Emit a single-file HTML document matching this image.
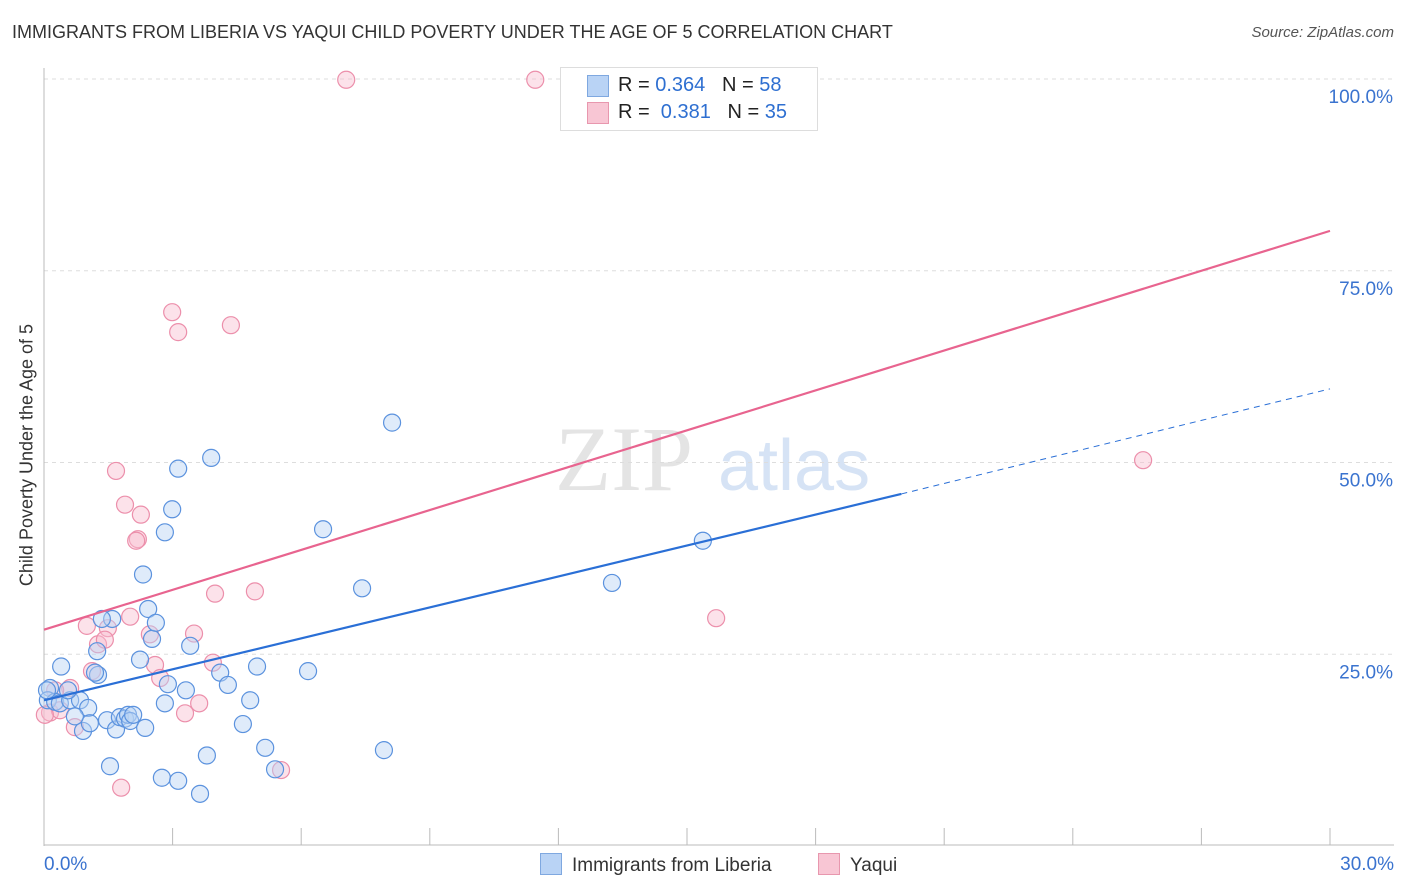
<!DOCTYPE html>
<html><head><meta charset="utf-8">
<style>
body{margin:0;background:#fff;font-family:"Liberation Sans",sans-serif;}
#wrap{position:relative;width:1406px;height:892px;overflow:hidden;}
.t{position:absolute;white-space:nowrap;}
</style></head>
<body>
<div id="wrap">
<div class="t" style="left:12px;top:22px;font-size:18px;color:#333;">IMMIGRANTS FROM LIBERIA VS YAQUI CHILD POVERTY UNDER THE AGE OF 5 CORRELATION CHART</div>
<div class="t" style="right:12px;top:24px;font-size:15px;color:#555;font-style:italic;">Source: ZipAtlas.com</div>
<div class="t" style="left:27px;top:455px;font-size:18px;color:#333;transform:translate(-50%,-50%) rotate(-90deg);">Child Poverty Under the Age of 5</div>
<svg id="plot" width="1406" height="892" style="position:absolute;left:0;top:0"></svg>
<div class="t" style="left:560px;top:67px;width:256px;height:62px;border:1px solid #ddd;background:#fff;"></div>
<div class="t" style="left:587px;top:75px;width:20px;height:20px;background:#b9d3f5;border:1px solid #7fa8e0;"></div>
<div class="t" style="left:618px;top:74px;font-size:20px;color:#222;">R = <span style="color:#2e6fd1">0.364</span>&nbsp;&nbsp;&nbsp;N = <span style="color:#2e6fd1">58</span></div>
<div class="t" style="left:587px;top:102px;width:20px;height:20px;background:#f8c6d4;border:1px solid #e897ae;"></div>
<div class="t" style="left:618px;top:101px;font-size:20px;color:#222;">R = &nbsp;<span style="color:#2e6fd1">0.381</span>&nbsp;&nbsp;&nbsp;N = <span style="color:#2e6fd1">35</span></div>
<div class="t" style="left:540px;top:853px;font-size:19px;color:#333;"><span style="display:inline-block;width:20px;height:20px;background:#b9d3f5;border:1px solid #7fa8e0;vertical-align:-4px;margin-right:10px"></span>Immigrants from Liberia</div>
<div class="t" style="left:818px;top:853px;font-size:19px;color:#333;"><span style="display:inline-block;width:20px;height:20px;background:#f8c6d4;border:1px solid #e897ae;vertical-align:-4px;margin-right:10px"></span>Yaqui</div>
</div>
<script>
const blueX=[0.40,0.14,0.09,0.26,0.37,0.61,0.84,0.56,1.03,0.91,1.07,0.72,1.24,1.26,1.19,1.54,1.47,1.68,1.77,1.89,1.96,2.01,2.36,2.24,2.31,2.43,2.52,2.61,2.82,2.89,2.75,3.13,2.99,3.13,3.31,3.41,3.64,3.80,3.90,4.11,4.29,4.64,4.81,4.97,5.16,5.39,6.16,6.51,7.42,7.93,8.12,13.25,15.37,1.59,1.35,2.08,0.07,2.82];
const blueY=[23.4,20.6,19.0,18.8,18.6,19.0,19.0,20.3,18.0,15.0,16.0,16.9,25.4,22.3,22.6,10.4,16.4,15.2,16.8,16.6,17.1,16.3,15.4,24.3,35.4,30.9,27.0,29.1,18.6,21.1,8.9,8.5,43.9,49.2,20.3,26.1,6.8,11.8,50.6,22.6,21.0,15.9,19.0,23.4,12.8,10.0,22.8,41.3,33.6,12.5,55.2,34.3,39.8,29.6,29.6,17.1,20.3,40.9];
const pinkX=[7.05,11.46,2.99,3.13,4.36,1.68,1.89,2.26,2.19,2.01,1.49,1.00,1.26,1.42,2.47,2.59,2.71,3.29,3.50,3.62,3.94,3.99,4.92,5.53,1.80,1.12,0.61,0.26,0.14,0.37,0.72,25.64,15.68,2.15,0.02];
const pinkY=[99.9,99.9,69.6,67.0,67.9,48.9,44.5,43.2,40.0,29.9,28.4,28.7,26.3,26.9,27.6,23.6,21.9,17.3,27.7,18.6,23.9,32.9,33.2,9.9,7.6,22.8,20.6,20.3,17.4,17.7,15.5,50.3,29.7,39.8,17.1];
const yTicks=[25,50,75,100];
const NS="http://www.w3.org/2000/svg";
const svg=document.getElementById('plot');
const X0=44,X1=1330,Y0=846,Y100=79;
function sx(v){return X0+(v/30)*(X1-X0);}
function sy(v){return Y0-(v/100)*(Y0-Y100);}
function el(tag,attrs){const e=document.createElementNS(NS,tag);for(const k in attrs)e.setAttribute(k,attrs[k]);svg.appendChild(e);return e;}
let wm=el('text',{x:555,y:490,'font-size':92,'font-family':'Liberation Serif, serif',fill:'#e4e4e4'});wm.textContent='ZIP';


let wm2=el('text',{x:718,y:490,'font-size':72,'font-family':'Liberation Sans, sans-serif',fill:'#d6e3f5'});wm2.textContent='atlas';


yTicks.forEach(t=>{
  const g=el('line',{x1:X0,x2:1394,y1:sy(t),y2:sy(t),stroke:'#ddd','stroke-dasharray':'4,4'});
  
  
  const tx=el('text',{x:1393,y:sy(t)+24,'text-anchor':'end','font-size':19,fill:'#3a73cf'});
  tx.textContent=t.toFixed(1)+'%';
  
  
});
let ax=el('line',{x1:X0,x2:X0,y1:68,y2:Y0,stroke:'#bbb'});


let bx=el('line',{x1:X0,x2:1394,y1:845,y2:845,stroke:'#bbb'});


for(let i=1;i<=10;i++){
  const tk=el('line',{x1:sx(i*3),x2:sx(i*3),y1:828,y2:845,stroke:'#bbb'});
  
  
}
[['0.0%',X0,'start'],['30.0%',1394,'end']].forEach(a=>{
  const t=el('text',{x:a[1],y:870,'text-anchor':a[2],'font-size':19,fill:'#3a73cf'});t.textContent=a[0];
  
  
});
function dots(xs,ys,fill,stroke,name){
  xs.forEach((x,i)=>{
    const c=el('circle',{cx:sx(x),cy:sy(ys[i]),r:8.5,fill:fill,stroke:stroke,'stroke-width':1.2,'fill-opacity':0.45});
    
    
  });
}
dots(pinkX,pinkY,'#f8bfd0','#ec8fab','yaqui-point');
dots(blueX,blueY,'#b9d3f5','#5b92de','liberia-point');
let pl=el('line',{x1:sx(0),y1:sy(28.2),x2:sx(30),y2:sy(80.2),stroke:'#e8648f','stroke-width':2.2});


let bl=el('line',{x1:sx(0),y1:sy(19.0),x2:sx(20),y2:sy(45.9),stroke:'#2a6fd6','stroke-width':2.2});


let bd=el('line',{x1:sx(20),y1:sy(45.9),x2:sx(30),y2:sy(59.6),stroke:'#2a6fd6','stroke-width':1,'stroke-dasharray':'6,5'});


</script>
</body></html>
